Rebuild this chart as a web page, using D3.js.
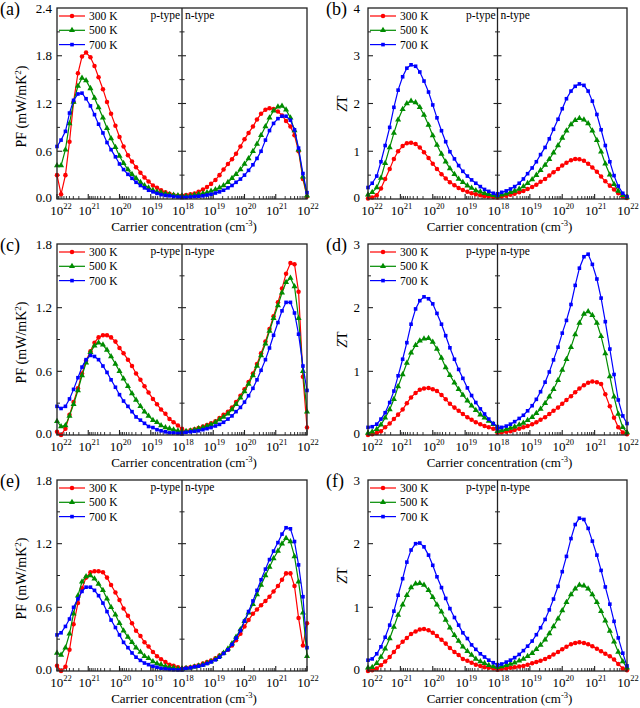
<!DOCTYPE html>
<html><head><meta charset="utf-8">
<script src="https://cdn.jsdelivr.net/npm/d3@7"></script>
<style>
body{margin:0;background:#fff}
svg{display:block}
svg text{font-family:"Liberation Serif","Tinos","DejaVu Serif","Times New Roman",serif !important;fill:#000}
</style>
</head><body>
<svg id="chart" width="640" height="708" font-family="Liberation Serif, DejaVu Serif, serif"></svg>
<script>
// ---------- DATA ----------
// log10 of carrier concentration (cm^-3); p-side runs 10^22 -> 10^18, n-side 10^18 -> 10^22
const pLog = [22.00,21.87,21.73,21.60,21.47,21.33,21.20,21.07,20.93,20.80,20.67,20.53,20.40,20.27,20.13,20.00,19.87,19.73,19.60,19.47,19.33,19.20,19.07,18.93,18.80,18.67,18.53,18.40,18.27,18.13,18.00];
const nLog = [18.00,18.13,18.27,18.40,18.53,18.67,18.80,18.93,19.07,19.20,19.33,19.47,19.60,19.73,19.87,20.00,20.13,20.27,20.40,20.53,20.67,20.80,20.93,21.07,21.20,21.33,21.47,21.60,21.73,21.87,22.00];

const temps = ["300 K","500 K","700 K"];
const xTickExp = [22,21,20,19,18];

// (a) PF
const a_p300 = [0.30,0.06,0.30,0.72,1.22,1.58,1.79,1.84,1.78,1.67,1.53,1.38,1.22,1.07,0.92,0.78,0.66,0.55,0.47,0.40,0.33,0.27,0.22,0.17,0.14,0.11,0.085,0.065,0.05,0.04,0.035];
const a_p500 = [0.42,0.42,0.62,0.95,1.22,1.42,1.52,1.49,1.39,1.27,1.15,1.02,0.89,0.76,0.65,0.54,0.45,0.37,0.31,0.26,0.21,0.17,0.14,0.11,0.09,0.08,0.065,0.055,0.05,0.045,0.04];
const a_p700 = [0.66,0.74,0.85,1.08,1.24,1.32,1.33,1.26,1.17,1.06,0.94,0.83,0.71,0.62,0.53,0.44,0.37,0.31,0.26,0.21,0.17,0.14,0.11,0.09,0.07,0.055,0.045,0.04,0.03,0.025,0.02];
const a_n300 = [0.04,0.05,0.06,0.07,0.09,0.12,0.15,0.19,0.24,0.30,0.37,0.44,0.50,0.57,0.66,0.75,0.83,0.91,1.00,1.07,1.12,1.14,1.13,1.10,1.05,0.98,0.91,0.80,0.60,0.25,0.03];
const a_n500 = [0.03,0.035,0.04,0.05,0.06,0.07,0.08,0.10,0.12,0.14,0.17,0.21,0.26,0.31,0.37,0.44,0.51,0.60,0.69,0.80,0.91,1.02,1.11,1.16,1.17,1.12,1.02,0.86,0.62,0.28,0.04];
const a_n700 = [0.02,0.02,0.025,0.03,0.035,0.04,0.05,0.06,0.075,0.09,0.11,0.14,0.17,0.21,0.25,0.30,0.36,0.43,0.51,0.60,0.74,0.86,0.95,1.01,1.04,1.04,0.99,0.87,0.64,0.32,0.08];

// (b) ZT
const b_p300 = [0.01,0.03,0.08,0.22,0.42,0.63,0.84,1.00,1.11,1.17,1.18,1.15,1.08,0.98,0.86,0.74,0.63,0.52,0.43,0.35,0.29,0.23,0.19,0.15,0.12,0.10,0.08,0.06,0.05,0.04,0.03];
const b_p500 = [0.09,0.14,0.24,0.44,0.75,1.08,1.38,1.66,1.88,2.00,2.05,2.02,1.92,1.76,1.55,1.33,1.13,0.94,0.78,0.64,0.52,0.42,0.35,0.28,0.23,0.18,0.15,0.12,0.10,0.08,0.07];
const b_p700 = [0.24,0.33,0.48,0.78,1.12,1.50,1.92,2.28,2.56,2.74,2.81,2.78,2.66,2.47,2.24,1.97,1.70,1.43,1.20,0.99,0.84,0.70,0.58,0.48,0.40,0.33,0.26,0.20,0.16,0.12,0.08];
const b_n300 = [0.04,0.05,0.07,0.09,0.11,0.14,0.17,0.21,0.25,0.30,0.36,0.42,0.49,0.56,0.63,0.70,0.76,0.81,0.84,0.83,0.80,0.74,0.66,0.57,0.47,0.37,0.28,0.20,0.12,0.06,0.02];
const b_n500 = [0.07,0.09,0.11,0.14,0.17,0.21,0.26,0.33,0.41,0.50,0.60,0.71,0.83,0.97,1.12,1.28,1.43,1.56,1.65,1.69,1.66,1.58,1.43,1.23,0.99,0.74,0.51,0.31,0.17,0.08,0.03];
const b_n700 = [0.11,0.14,0.17,0.21,0.26,0.33,0.42,0.53,0.65,0.78,0.93,1.08,1.26,1.46,1.67,1.89,2.10,2.26,2.36,2.41,2.38,2.26,2.05,1.77,1.45,1.12,0.78,0.49,0.27,0.12,0.05];

// (c) PF
const c_p300 = [0.03,0.00,0.06,0.19,0.31,0.44,0.58,0.70,0.79,0.87,0.92,0.94,0.94,0.92,0.88,0.82,0.77,0.71,0.65,0.58,0.52,0.46,0.40,0.34,0.29,0.24,0.20,0.15,0.12,0.09,0.06];
const c_p500 = [0.13,0.08,0.09,0.18,0.29,0.42,0.56,0.68,0.78,0.84,0.87,0.85,0.80,0.74,0.67,0.60,0.53,0.46,0.39,0.33,0.27,0.22,0.18,0.14,0.12,0.09,0.07,0.06,0.05,0.04,0.03];
const c_p700 = [0.27,0.25,0.27,0.34,0.43,0.54,0.64,0.71,0.75,0.74,0.71,0.65,0.59,0.52,0.45,0.38,0.32,0.27,0.22,0.17,0.14,0.11,0.08,0.07,0.05,0.04,0.03,0.02,0.02,0.015,0.01];
const c_n300 = [0.03,0.035,0.045,0.055,0.065,0.08,0.095,0.11,0.13,0.16,0.19,0.22,0.26,0.31,0.37,0.43,0.50,0.58,0.67,0.77,0.88,1.00,1.12,1.25,1.38,1.52,1.62,1.61,1.35,0.55,0.07];
const c_n500 = [0.03,0.035,0.04,0.05,0.06,0.07,0.085,0.10,0.12,0.145,0.17,0.20,0.24,0.29,0.35,0.41,0.48,0.56,0.65,0.75,0.86,0.98,1.10,1.22,1.34,1.44,1.48,1.40,1.10,0.60,0.22];
const c_n700 = [0.02,0.025,0.03,0.035,0.04,0.05,0.06,0.07,0.085,0.10,0.12,0.15,0.18,0.22,0.26,0.31,0.37,0.44,0.52,0.61,0.71,0.82,0.94,1.06,1.17,1.25,1.25,1.15,0.95,0.65,0.42];

// (d) ZT
const d_p300 = [0.00,0.01,0.03,0.06,0.12,0.18,0.25,0.32,0.40,0.50,0.59,0.66,0.71,0.73,0.74,0.72,0.69,0.63,0.56,0.49,0.43,0.38,0.33,0.28,0.24,0.20,0.17,0.14,0.12,0.10,0.08];
const d_p500 = [0.03,0.05,0.09,0.16,0.27,0.40,0.56,0.76,0.95,1.13,1.29,1.41,1.48,1.51,1.52,1.46,1.35,1.21,1.06,0.94,0.82,0.72,0.63,0.54,0.46,0.39,0.32,0.27,0.22,0.17,0.13];
const d_p700 = [0.12,0.13,0.17,0.25,0.35,0.51,0.69,0.93,1.19,1.45,1.74,1.98,2.11,2.17,2.14,2.06,1.91,1.74,1.56,1.37,1.19,1.03,0.89,0.74,0.62,0.51,0.41,0.33,0.25,0.18,0.13];
const d_n300 = [0.03,0.04,0.05,0.06,0.08,0.10,0.12,0.14,0.17,0.20,0.24,0.28,0.33,0.38,0.43,0.49,0.55,0.61,0.67,0.73,0.78,0.82,0.84,0.83,0.80,0.64,0.45,0.27,0.12,0.04,0.01];
const d_n500 = [0.06,0.07,0.09,0.11,0.13,0.16,0.19,0.23,0.28,0.34,0.41,0.50,0.60,0.72,0.86,1.02,1.19,1.38,1.58,1.76,1.90,1.94,1.88,1.76,1.55,1.28,0.92,0.60,0.33,0.12,0.04];
const d_n700 = [0.10,0.12,0.14,0.17,0.21,0.26,0.31,0.38,0.46,0.56,0.68,0.83,0.99,1.18,1.38,1.60,1.80,2.05,2.35,2.62,2.80,2.84,2.68,2.45,2.15,1.78,1.35,0.95,0.55,0.30,0.18];

// (e) PF
const e_p300 = [0.05,0.00,0.04,0.20,0.44,0.64,0.78,0.88,0.93,0.94,0.94,0.93,0.88,0.81,0.74,0.67,0.59,0.52,0.45,0.38,0.33,0.27,0.23,0.18,0.14,0.11,0.085,0.06,0.05,0.035,0.02];
const e_p500 = [0.17,0.15,0.22,0.35,0.54,0.71,0.84,0.89,0.90,0.87,0.82,0.76,0.68,0.60,0.53,0.45,0.38,0.32,0.27,0.22,0.18,0.14,0.12,0.09,0.07,0.06,0.045,0.035,0.03,0.02,0.02];
const e_p700 = [0.34,0.36,0.42,0.49,0.60,0.68,0.75,0.79,0.79,0.76,0.71,0.64,0.56,0.48,0.41,0.34,0.27,0.22,0.17,0.13,0.10,0.075,0.06,0.045,0.035,0.025,0.02,0.015,0.012,0.01,0.01];
const e_n300 = [0.02,0.03,0.035,0.045,0.055,0.07,0.085,0.10,0.12,0.145,0.17,0.20,0.24,0.29,0.35,0.42,0.48,0.54,0.58,0.62,0.66,0.70,0.75,0.80,0.86,0.92,0.92,0.80,0.50,0.24,0.45];
const e_n500 = [0.02,0.025,0.03,0.04,0.05,0.06,0.075,0.09,0.11,0.14,0.17,0.21,0.26,0.32,0.39,0.47,0.55,0.63,0.72,0.81,0.90,0.98,1.06,1.13,1.20,1.25,1.22,1.08,0.84,0.55,0.14];
const e_n700 = [0.02,0.025,0.03,0.04,0.045,0.055,0.07,0.085,0.105,0.13,0.165,0.20,0.25,0.31,0.38,0.47,0.56,0.66,0.76,0.86,0.96,1.05,1.13,1.21,1.29,1.35,1.34,1.22,1.00,0.70,0.22];

// (f) ZT
const f_p300 = [0.00,0.01,0.04,0.09,0.15,0.22,0.30,0.38,0.46,0.52,0.58,0.62,0.65,0.66,0.64,0.60,0.55,0.49,0.43,0.36,0.30,0.25,0.19,0.16,0.13,0.10,0.08,0.06,0.05,0.04,0.03];
const f_p500 = [0.05,0.06,0.12,0.22,0.35,0.51,0.69,0.88,1.04,1.19,1.31,1.37,1.38,1.35,1.27,1.16,1.04,0.93,0.80,0.68,0.56,0.47,0.38,0.31,0.25,0.19,0.15,0.12,0.09,0.07,0.06];
const f_p700 = [0.17,0.19,0.27,0.38,0.53,0.72,0.94,1.19,1.45,1.71,1.90,2.00,2.01,1.95,1.82,1.66,1.48,1.31,1.14,0.98,0.84,0.72,0.60,0.51,0.41,0.34,0.27,0.22,0.17,0.13,0.10];
const f_n300 = [0.02,0.03,0.04,0.05,0.06,0.07,0.08,0.10,0.12,0.14,0.16,0.19,0.22,0.26,0.30,0.34,0.38,0.42,0.44,0.45,0.44,0.42,0.39,0.35,0.31,0.27,0.23,0.18,0.11,0.04,0.01];
const f_n500 = [0.06,0.07,0.09,0.11,0.13,0.16,0.19,0.23,0.28,0.34,0.41,0.49,0.59,0.70,0.82,0.95,1.08,1.20,1.29,1.35,1.34,1.29,1.20,1.08,0.94,0.79,0.63,0.46,0.30,0.15,0.05];
const f_n700 = [0.09,0.11,0.14,0.17,0.21,0.26,0.32,0.39,0.47,0.57,0.68,0.81,0.96,1.13,1.33,1.56,1.80,2.08,2.30,2.40,2.38,2.24,2.04,1.82,1.58,1.32,1.05,0.78,0.52,0.28,0.08];

// ---------- STYLE / LAYOUT ----------
const colors = ["#ff0000","#008c00","#0000ff"];
const symbols = [d3.symbolCircle, d3.symbolTriangle, d3.symbolSquare];
const symSizes = [16, 16, 13];

const panels = [
  {label:"(a)", lx:0,   left:57,  right:307, top:8,   bottom:199, yMax:2.4, yStep:0.6, kind:"PF",
   p:[a_p300,a_p500,a_p700], n:[a_n300,a_n500,a_n700]},
  {label:"(b)", lx:326, left:368, right:627, top:8,   bottom:199, yMax:4,   yStep:1,   kind:"ZT",
   p:[b_p300,b_p500,b_p700], n:[b_n300,b_n500,b_n700]},
  {label:"(c)", lx:0,   left:57,  right:307, top:244, bottom:435, yMax:1.8, yStep:0.6, kind:"PF",
   p:[c_p300,c_p500,c_p700], n:[c_n300,c_n500,c_n700]},
  {label:"(d)", lx:326, left:368, right:627, top:244, bottom:435, yMax:3,   yStep:1,   kind:"ZT",
   p:[d_p300,d_p500,d_p700], n:[d_n300,d_n500,d_n700]},
  {label:"(e)", lx:0,   left:57,  right:307, top:480, bottom:671, yMax:1.8, yStep:0.6, kind:"PF",
   p:[e_p300,e_p500,e_p700], n:[e_n300,e_n500,e_n700]},
  {label:"(f)", lx:326, left:368, right:627, top:480, bottom:671, yMax:3,   yStep:1,   kind:"ZT",
   p:[f_p300,f_p500,f_p700], n:[f_n300,f_n500,f_n700]}
];

const svg = d3.select("#chart");
const axisColor = "#222";

function drawPanel(P){
  const g = svg.append("g");
  const cx = (P.left + P.right) / 2;
  const xP = d3.scaleLog().domain([1e22, 1e18]).range([P.left, cx]);
  const xN = d3.scaleLog().domain([1e18, 1e22]).range([cx, P.right]);
  const y = d3.scaleLinear().domain([0, P.yMax]).range([P.bottom, P.top]);

  const nMaj = Math.round(P.yMax / P.yStep);
  const majors = d3.range(nMaj + 1).map(i => +(i * P.yStep).toFixed(3));
  const minors = d3.range(nMaj).map(i => +((i + 0.5) * P.yStep).toFixed(3));
  const fmt = P.kind === "PF" ? d3.format(".1f") : d3.format("d");

  // left axis ticks (inward)
  g.selectAll(null).data(majors.slice(1, -1)).join("line")
    .attr("x1", P.left).attr("x2", P.left + 5)
    .attr("y1", d => y(d)).attr("y2", d => y(d))
    .attr("stroke", axisColor).attr("stroke-width", 1.1);
  g.selectAll(null).data(minors).join("line")
    .attr("x1", P.left).attr("x2", P.left + 3)
    .attr("y1", d => y(d)).attr("y2", d => y(d))
    .attr("stroke", axisColor).attr("stroke-width", 1);
  // center line ticks (crossing)
  g.selectAll(null).data(majors.slice(1, -1)).join("line")
    .attr("x1", cx - 4).attr("x2", cx + 4)
    .attr("y1", d => y(d)).attr("y2", d => y(d))
    .attr("stroke", axisColor).attr("stroke-width", 1.1);
  g.selectAll(null).data(minors).join("line")
    .attr("x1", cx - 2.5).attr("x2", cx + 2.5)
    .attr("y1", d => y(d)).attr("y2", d => y(d))
    .attr("stroke", axisColor).attr("stroke-width", 1);

  // y tick labels
  const labOff = P.kind === "PF" ? 5 : 8;
  g.selectAll(null).data(majors).join("text")
    .attr("x", P.left - labOff).attr("y", d => y(d) + (d === 0 ? 3 : 4.5))
    .attr("text-anchor", "end").attr("font-size", 13)
    .text(d => fmt(d));

  // x ticks: major (decades) & minor
  const minorVals = [];
  for (let e = 18; e < 22; e++) for (let m = 2; m <= 9; m++) minorVals.push(m * Math.pow(10, e));
  [xP, xN].forEach(sc => {
    g.selectAll(null).data(xTickExp.map(e => Math.pow(10, e))).join("line")
      .attr("x1", d => sc(d)).attr("x2", d => sc(d))
      .attr("y1", P.bottom).attr("y2", P.bottom - 5)
      .attr("stroke", axisColor).attr("stroke-width", 1.1);
    g.selectAll(null).data(minorVals).join("line")
      .attr("x1", d => sc(d)).attr("x2", d => sc(d))
      .attr("y1", P.bottom).attr("y2", P.bottom - 3)
      .attr("stroke", axisColor).attr("stroke-width", 0.9);
  });

  // x tick labels
  const labs = xTickExp.map(e => ({x: xP(Math.pow(10, e)), e}))
    .concat(xTickExp.slice(0, 4).map(e => ({x: xN(Math.pow(10, e)), e})));
  labs.forEach((L, i) => {
    const t = g.append("text").attr("x", L.x + 1 + (i === 0 ? 3 : 0)).attr("y", P.bottom + 16)
      .attr("text-anchor", "middle").attr("font-size", 13);
    t.append("tspan").text("10");
    t.append("tspan").attr("dy", -6).attr("font-size", 8.5).text(L.e);
  });

  // x title
  const xt = g.append("text").attr("x", cx + 2).attr("y", P.bottom + 32)
    .attr("text-anchor", "middle").attr("font-size", 13);
  xt.append("tspan").text("Carrier concentration (cm");
  xt.append("tspan").attr("dy", -5).attr("font-size", 8.5).text("-3");
  xt.append("tspan").attr("dy", 5).text(")");

  // y title
  const ym = (P.top + P.bottom) / 2;
  if (P.kind === "PF") {
    const yt = g.append("text")
      .attr("transform", `translate(${P.left - 31},${ym + 3}) rotate(-90)`)
      .attr("text-anchor", "middle").attr("font-size", 14);
    yt.append("tspan").text("PF (mW/mK");
    yt.append("tspan").attr("dy", -5).attr("font-size", 9).text("2");
    yt.append("tspan").attr("dy", 5).text(")");
  } else {
    const yt = g.append("text")
      .attr("transform", `translate(${P.left - 21},${ym}) rotate(-90)`)
      .attr("text-anchor", "middle").attr("font-size", 14);
    yt.append("tspan").attr("font-style", "italic").text("Z");
    yt.append("tspan").text("T");
  }

  // curves
  const lineP = d3.line().x((d, i) => xP(Math.pow(10, pLog[i]))).y(d => y(d));
  const lineN = d3.line().x((d, i) => xN(Math.pow(10, nLog[i]))).y(d => y(d));
  [0, 1, 2].forEach(s => {
    [[P.p[s], lineP, pLog, xP], [P.n[s], lineN, nLog, xN]].forEach(([vals, ln, lg, sc]) => {
      g.append("path").datum(vals).attr("d", ln)
        .attr("fill", "none").attr("stroke", colors[s]).attr("stroke-width", 1.2);
      g.selectAll(null).data(vals).join("path")
        .attr("transform", (d, i) => `translate(${sc(Math.pow(10, lg[i]))},${y(d)})`)
        .attr("d", d3.symbol().type(symbols[s]).size(symSizes[s]))
        .attr("fill", colors[s]);
    });
  });

  // frame & divider
  g.append("rect").attr("x", P.left).attr("y", P.top)
    .attr("width", P.right - P.left).attr("height", P.bottom - P.top)
    .attr("fill", "none").attr("stroke", axisColor).attr("stroke-width", 1.3);
  g.append("line").attr("x1", cx).attr("x2", cx).attr("y1", P.top).attr("y2", P.bottom)
    .attr("stroke", axisColor).attr("stroke-width", 1.3);

  // legend
  temps.forEach((t, s) => {
    const ly = P.top + 8 + s * 14.3;
    const x0 = P.left + 2;
    g.append("line").attr("x1", x0).attr("x2", x0 + 26).attr("y1", ly).attr("y2", ly)
      .attr("stroke", colors[s]).attr("stroke-width", 1.2);
    g.append("path").attr("transform", `translate(${x0 + 13},${ly})`)
      .attr("d", d3.symbol().type(symbols[s]).size(symSizes[s])).attr("fill", colors[s]);
    g.append("text").attr("x", x0 + 30).attr("y", ly + 4).attr("font-size", 11.5).text(t);
  });

  // p-type / n-type
  g.append("text").attr("x", cx - 2).attr("y", P.top + 11).attr("text-anchor", "end")
    .attr("font-size", 11.5).text("p-type");
  g.append("text").attr("x", cx + 3).attr("y", P.top + 11)
    .attr("font-size", 11.5).text("n-type");

  // panel label
  g.append("text").attr("x", P.lx).attr("y", P.top + 7).attr("font-size", 18).text(P.label);
}

panels.forEach(drawPanel);
</script>
</body></html>
